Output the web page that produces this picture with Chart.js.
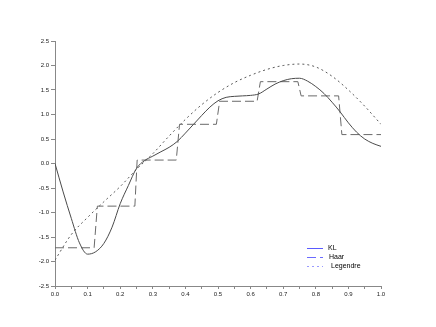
<!DOCTYPE html>
<html>
<head>
<meta charset="utf-8">
<script src="https://cdn.jsdelivr.net/npm/chart.js@4/dist/chart.umd.min.js"></script>
<style>
  html, body { margin: 0; padding: 0; background: #fff; }
  canvas { display: block; }
</style>
</head>
<body>
<canvas id="chart" width="436" height="327"></canvas>
<script>
// KL expansion (solid)
const klX = [0, 0.025, 0.05, 0.075, 0.1, 0.125, 0.15, 0.175, 0.2, 0.225, 0.25, 0.275, 0.3, 0.325, 0.35, 0.375,
  0.4, 0.425, 0.45, 0.475, 0.5, 0.525, 0.55, 0.575, 0.6, 0.625, 0.65, 0.675, 0.7, 0.725, 0.75,
  0.775, 0.8, 0.825, 0.85, 0.875, 0.9, 0.925, 0.95, 0.975, 1.0];
const klY = [0.0, -0.58, -1.12, -1.62, -1.85, -1.8, -1.63, -1.3, -0.82, -0.45, -0.1, 0.06, 0.15, 0.24, 0.33, 0.45,
  0.62, 0.8, 0.98, 1.15, 1.28, 1.35, 1.37, 1.38, 1.39, 1.42, 1.52, 1.62, 1.69, 1.73, 1.74,
  1.68, 1.57, 1.43, 1.25, 1.05, 0.83, 0.64, 0.5, 0.41, 0.35];

// Haar approximation (dashed step)
const haarX = [0, 0.12, 0.13, 0.245, 0.252, 0.372, 0.382, 0.495, 0.505, 0.62, 0.63, 0.745, 0.755, 0.87, 0.88, 1.0];
const haarY = [-1.72, -1.72, -0.87, -0.87, 0.07, 0.07, 0.8, 0.8, 1.27, 1.27, 1.67, 1.67, 1.38, 1.38, 0.59, 0.59];

// Legendre approximation (dotted)
const legX = [0, 0.05, 0.1, 0.15, 0.2, 0.25, 0.3, 0.35, 0.4, 0.45, 0.5, 0.55, 0.6, 0.65, 0.7, 0.75, 0.8, 0.85, 0.9, 0.95, 1.0];
const legY = [-1.97, -1.45, -1.1, -0.78, -0.47, -0.12, 0.2, 0.56, 0.9, 1.2, 1.45, 1.65, 1.8, 1.92, 2.0, 2.03, 1.97, 1.78, 1.5, 1.17, 0.8];

const seriesNames = ['KL', 'Haar', 'Legendre'];
const legendColors = ['#5a5aff', '#6a6aff', '#9a9aff'];

const toPoints = (xs, ys) => xs.map((x, i) => ({ x: x, y: ys[i] }));

// draws the small legend box in the lower right
const legendPlugin = {
  id: 'smallLegend',
  afterDraw(chart) {
    const ctx = chart.ctx;
    const x0 = 307, y0 = 248, gap = 9;
    const textX = [328, 329, 331];
    ctx.save();
    ctx.font = '7px "Liberation Sans", Arial, sans-serif';
    ctx.textBaseline = 'middle';
    chart.data.datasets.forEach((ds, i) => {
      const y = y0 + i * gap;
      ctx.strokeStyle = legendColors[i];
      ctx.lineWidth = 1;
      ctx.setLineDash(ds.borderDash || []);
      ctx.beginPath();
      ctx.moveTo(x0, y + 0.5);
      ctx.lineTo(x0 + 16, y + 0.5);
      ctx.stroke();
      ctx.setLineDash([]);
      ctx.fillStyle = '#000';
      ctx.fillText(ds.label, textX[i], y);
    });
    ctx.restore();
  }
};

const tickFont = { family: '"Liberation Sans", Arial, sans-serif', size: 6 };

new Chart(document.getElementById('chart').getContext('2d'), {
  type: 'scatter',
  data: {
    datasets: [
      {
        label: seriesNames[0],
        data: toPoints(klX, klY),
        showLine: true,
        borderColor: '#4a4a4a',
        borderWidth: 1,
        pointRadius: 0,
        tension: 0.4,
        cubicInterpolationMode: 'monotone'
      },
      {
        label: seriesNames[1],
        data: toPoints(haarX, haarY),
        showLine: true,
        borderColor: '#6a6a6a',
        borderWidth: 1,
        borderDash: [9, 4],
        pointRadius: 0,
        tension: 0
      },
      {
        label: seriesNames[2],
        data: toPoints(legX, legY),
        showLine: true,
        borderColor: '#5a5a5a',
        borderWidth: 1,
        borderDash: [2, 3],
        pointRadius: 0,
        tension: 0.4,
        cubicInterpolationMode: 'monotone'
      }
    ]
  },
  options: {
    responsive: false,
    animation: false,
    layout: { padding: { top: 41, right: 55, left: 0, bottom: 0 } },
    plugins: {
      legend: { display: false },
      tooltip: { enabled: false }
    },
    scales: {
      x: {
        type: 'linear',
        min: 0,
        max: 1,
        afterFit: scale => { scale.height = 41; },
        border: { display: true, color: '#888' },
        grid: { drawOnChartArea: false, color: '#888', tickLength: 3 },
        ticks: {
          stepSize: 0.05,
          autoSkip: false,
          maxRotation: 0,
          padding: 2,
          color: '#222',
          font: tickFont,
          callback: (v, i) => (i % 2 === 0 ? v.toFixed(1) : '')
        }
      },
      y: {
        min: -2.5,
        max: 2.5,
        afterFit: scale => { scale.width = 55; },
        border: { display: true, color: '#888' },
        grid: { drawOnChartArea: false, color: '#888', tickLength: 4 },
        ticks: {
          stepSize: 0.5,
          padding: 2,
          color: '#222',
          font: tickFont,
          callback: v => v.toFixed(1)
        }
      }
    }
  },
  plugins: [legendPlugin]
});
</script>
</body>
</html>
